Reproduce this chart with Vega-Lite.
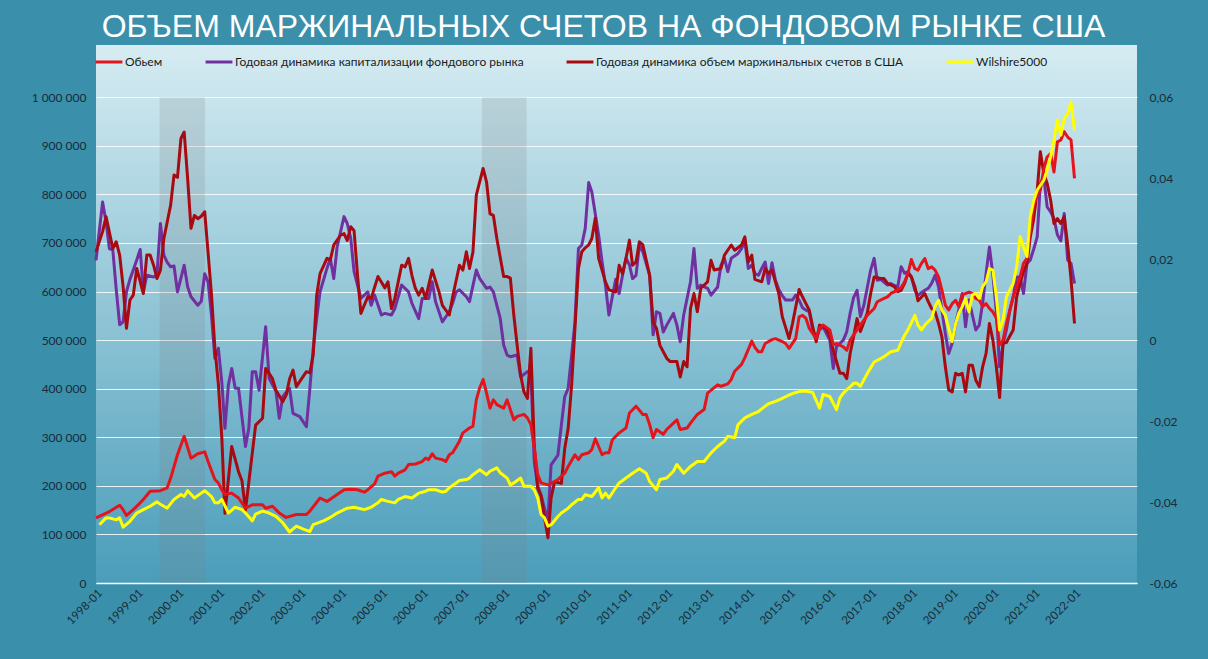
{
"$schema":"https://vega.github.io/schema/vega-lite/v6.json",
"width":1041,"height":538,
"autosize":{"type":"none"},
"padding":{"left":96,"top":45,"right":71,"bottom":76},
"background":"#3a8fab",
"title":{"text":"ОБЪЕМ МАРЖИНАЛЬНЫХ СЧЕТОВ НА ФОНДОВОМ РЫНКЕ США","color":"#ffffff","font":"Liberation Sans","fontSize":32,"fontWeight":"normal","anchor":"middle","baseline":"bottom","offset":0,"dy":31,"dx":-13},
"config":{
 "locale":{"number":{"decimal":",","thousands":" ","grouping":[3],"currency":["",""],"minus":"-"}},
 "view":{"stroke":null,"fill":{"gradient":"linear","x1":0,"y1":0,"x2":0,"y2":1,"stops":[{"offset":0,"color":"#d6ecf2"},{"offset":1,"color":"#4a9dba"}]}},
 "axis":{"labelFont":"Lato","labelFontSize":12,"labelColor":"#1c2b36","ticks":false,"title":null,"domain":false,"grid":false}
},
"datasets":{
"bands":[{"start":"1999-07-25","end":"2000-09-03"},{"start":"2007-06-20","end":"2008-07-25"}],
"vol":[
{"d":"1998-01","v":134000},{"d":"1998-05","v":147000},{"d":"1998-08","v":160000},{"d":"1998-09","v":151000},{"d":"1998-10","v":139000},{"d":"1998-12","v":151000},{"d":"1999-02","v":165000},{"d":"1999-03","v":172000},{"d":"1999-05","v":189000},{"d":"1999-08","v":190000},{"d":"1999-10","v":196000},{"d":"1999-11","v":216000},{"d":"2000-01","v":264000},{"d":"2000-03","v":302000},{"d":"2000-05","v":257000},{"d":"2000-07","v":266000},{"d":"2000-09","v":270000},{"d":"2000-10","v":250000},{"d":"2000-12","v":213000},{"d":"2001-01","v":206000},{"d":"2001-02","v":192000},{"d":"2001-03","v":182000},{"d":"2001-05","v":185000},{"d":"2001-07","v":175000},{"d":"2001-09","v":154000},{"d":"2001-11","v":161000},{"d":"2002-02","v":161000},{"d":"2002-03","v":154000},{"d":"2002-05","v":158000},{"d":"2002-07","v":144000},{"d":"2002-09","v":135000},{"d":"2002-12","v":141000},{"d":"2003-03","v":141000},{"d":"2003-04","v":148000},{"d":"2003-07","v":175000},{"d":"2003-09","v":168000},{"d":"2003-12","v":182000},{"d":"2004-02","v":192000},{"d":"2004-04","v":193000},{"d":"2004-06","v":192000},{"d":"2004-08","v":187000},{"d":"2004-09","v":192000},{"d":"2004-11","v":204000},{"d":"2004-12","v":220000},{"d":"2005-02","v":226000},{"d":"2005-04","v":229000},{"d":"2005-05","v":220000},{"d":"2005-06","v":226000},{"d":"2005-08","v":233000},{"d":"2005-09","v":244000},{"d":"2005-11","v":245000},{"d":"2006-01","v":250000},{"d":"2006-02","v":257000},{"d":"2006-03","v":254000},{"d":"2006-04","v":266000},{"d":"2006-05","v":257000},{"d":"2006-07","v":254000},{"d":"2006-08","v":250000},{"d":"2006-09","v":264000},{"d":"2006-10","v":268000},{"d":"2006-12","v":292000},{"d":"2007-01","v":309000},{"d":"2007-03","v":319000},{"d":"2007-04","v":323000},{"d":"2007-05","v":377000},{"d":"2007-06","v":402000},{"d":"2007-07","v":419000},{"d":"2007-08","v":391000},{"d":"2007-09","v":360000},{"d":"2007-10","v":377000},{"d":"2007-11","v":367000},{"d":"2008-01","v":360000},{"d":"2008-02","v":377000},{"d":"2008-03","v":357000},{"d":"2008-04","v":336000},{"d":"2008-05","v":343000},{"d":"2008-07","v":347000},{"d":"2008-08","v":340000},{"d":"2008-09","v":326000},{"d":"2008-10","v":278000},{"d":"2008-11","v":223000},{"d":"2008-12","v":206000},{"d":"2009-02","v":202000},{"d":"2009-03","v":205000},{"d":"2009-04","v":209000},{"d":"2009-05","v":213000},{"d":"2009-07","v":226000},{"d":"2009-08","v":240000},{"d":"2009-10","v":264000},{"d":"2009-11","v":254000},{"d":"2009-12","v":264000},{"d":"2010-02","v":268000},{"d":"2010-03","v":275000},{"d":"2010-04","v":297000},{"d":"2010-06","v":264000},{"d":"2010-07","v":268000},{"d":"2010-08","v":268000},{"d":"2010-09","v":295000},{"d":"2010-11","v":309000},{"d":"2011-01","v":319000},{"d":"2011-02","v":350000},{"d":"2011-04","v":364000},{"d":"2011-06","v":347000},{"d":"2011-07","v":347000},{"d":"2011-08","v":326000},{"d":"2011-09","v":299000},{"d":"2011-10","v":316000},{"d":"2011-12","v":306000},{"d":"2012-01","v":316000},{"d":"2012-03","v":329000},{"d":"2012-04","v":336000},{"d":"2012-05","v":316000},{"d":"2012-07","v":319000},{"d":"2012-08","v":329000},{"d":"2012-10","v":347000},{"d":"2012-12","v":357000},{"d":"2013-01","v":391000},{"d":"2013-03","v":402000},{"d":"2013-04","v":408000},{"d":"2013-05","v":405000},{"d":"2013-07","v":410000},{"d":"2013-08","v":419000},{"d":"2013-09","v":436000},{"d":"2013-11","v":450000},{"d":"2013-12","v":464000},{"d":"2014-02","v":498000},{"d":"2014-03","v":485000},{"d":"2014-04","v":476000},{"d":"2014-05","v":476000},{"d":"2014-06","v":493000},{"d":"2014-08","v":501000},{"d":"2014-09","v":503000},{"d":"2014-11","v":497000},{"d":"2014-12","v":493000},{"d":"2015-01","v":483000},{"d":"2015-03","v":503000},{"d":"2015-04","v":548000},{"d":"2015-05","v":551000},{"d":"2015-06","v":545000},{"d":"2015-07","v":524000},{"d":"2015-09","v":503000},{"d":"2015-10","v":524000},{"d":"2015-11","v":531000},{"d":"2016-01","v":521000},{"d":"2016-02","v":490000},{"d":"2016-03","v":493000},{"d":"2016-05","v":486000},{"d":"2016-06","v":479000},{"d":"2016-07","v":500000},{"d":"2016-09","v":521000},{"d":"2016-10","v":531000},{"d":"2016-11","v":541000},{"d":"2016-12","v":551000},{"d":"2017-02","v":565000},{"d":"2017-03","v":579000},{"d":"2017-05","v":586000},{"d":"2017-06","v":589000},{"d":"2017-07","v":596000},{"d":"2017-09","v":603000},{"d":"2017-10","v":608000},{"d":"2017-11","v":620000},{"d":"2017-12","v":637000},{"d":"2018-01","v":666000},{"d":"2018-02","v":647000},{"d":"2018-03","v":644000},{"d":"2018-04","v":658000},{"d":"2018-05","v":668000},{"d":"2018-06","v":647000},{"d":"2018-07","v":651000},{"d":"2018-08","v":644000},{"d":"2018-09","v":630000},{"d":"2018-10","v":603000},{"d":"2018-11","v":572000},{"d":"2018-12","v":562000},{"d":"2019-01","v":575000},{"d":"2019-02","v":582000},{"d":"2019-03","v":569000},{"d":"2019-04","v":593000},{"d":"2019-06","v":599000},{"d":"2019-07","v":596000},{"d":"2019-08","v":586000},{"d":"2019-09","v":582000},{"d":"2019-10","v":569000},{"d":"2019-11","v":575000},{"d":"2019-12","v":565000},{"d":"2020-01","v":558000},{"d":"2020-02","v":545000},{"d":"2020-03","v":490000},{"d":"2020-04","v":500000},{"d":"2020-05","v":534000},{"d":"2020-07","v":589000},{"d":"2020-09","v":630000},{"d":"2020-10","v":658000},{"d":"2020-11","v":668000},{"d":"2020-12","v":726000},{"d":"2021-01","v":778000},{"d":"2021-02","v":799000},{"d":"2021-03","v":809000},{"d":"2021-04","v":853000},{"d":"2021-05","v":877000},{"d":"2021-06","v":884000},{"d":"2021-07","v":846000},{"d":"2021-08","v":908000},{"d":"2021-09","v":912000},{"d":"2021-10","v":929000},{"d":"2021-11","v":918000},{"d":"2021-12","v":912000},{"d":"2022-01","v":833000}],
"wil":[
{"d":"1998-02","v":120000},{"d":"1998-04","v":134000},{"d":"1998-05","v":134000},{"d":"1998-07","v":130000},{"d":"1998-08","v":134000},{"d":"1998-09","v":115000},{"d":"1998-11","v":127000},{"d":"1999-01","v":144000},{"d":"1999-03","v":151000},{"d":"1999-05","v":158000},{"d":"1999-07","v":167000},{"d":"1999-08","v":162000},{"d":"1999-10","v":154000},{"d":"1999-12","v":172000},{"d":"2000-02","v":182000},{"d":"2000-03","v":178000},{"d":"2000-04","v":190000},{"d":"2000-06","v":175000},{"d":"2000-08","v":185000},{"d":"2000-09","v":190000},{"d":"2000-11","v":178000},{"d":"2000-12","v":165000},{"d":"2001-01","v":165000},{"d":"2001-02","v":172000},{"d":"2001-04","v":144000},{"d":"2001-06","v":156000},{"d":"2001-08","v":151000},{"d":"2001-09","v":144000},{"d":"2001-11","v":128000},{"d":"2001-12","v":142000},{"d":"2002-02","v":148000},{"d":"2002-04","v":144000},{"d":"2002-06","v":137000},{"d":"2002-08","v":124000},{"d":"2002-10","v":105000},{"d":"2002-12","v":117000},{"d":"2003-02","v":111000},{"d":"2003-04","v":106000},{"d":"2003-05","v":120000},{"d":"2003-08","v":128000},{"d":"2003-10","v":135000},{"d":"2003-12","v":144000},{"d":"2004-03","v":154000},{"d":"2004-05","v":156000},{"d":"2004-08","v":151000},{"d":"2004-10","v":156000},{"d":"2004-12","v":165000},{"d":"2005-01","v":172000},{"d":"2005-03","v":168000},{"d":"2005-05","v":165000},{"d":"2005-06","v":172000},{"d":"2005-08","v":178000},{"d":"2005-10","v":175000},{"d":"2005-12","v":185000},{"d":"2006-02","v":189000},{"d":"2006-03","v":192000},{"d":"2006-05","v":192000},{"d":"2006-07","v":187000},{"d":"2006-08","v":189000},{"d":"2006-09","v":196000},{"d":"2006-11","v":206000},{"d":"2006-12","v":211000},{"d":"2007-02","v":213000},{"d":"2007-03","v":216000},{"d":"2007-04","v":223000},{"d":"2007-06","v":233000},{"d":"2007-08","v":223000},{"d":"2007-09","v":230000},{"d":"2007-11","v":237000},{"d":"2007-12","v":227000},{"d":"2008-02","v":216000},{"d":"2008-03","v":202000},{"d":"2008-04","v":206000},{"d":"2008-06","v":216000},{"d":"2008-07","v":199000},{"d":"2008-09","v":199000},{"d":"2008-10","v":192000},{"d":"2008-11","v":175000},{"d":"2008-12","v":141000},{"d":"2009-01","v":134000},{"d":"2009-02","v":117000},{"d":"2009-03","v":120000},{"d":"2009-05","v":137000},{"d":"2009-06","v":144000},{"d":"2009-08","v":154000},{"d":"2009-09","v":161000},{"d":"2009-11","v":172000},{"d":"2009-12","v":172000},{"d":"2010-01","v":182000},{"d":"2010-03","v":178000},{"d":"2010-05","v":196000},{"d":"2010-06","v":175000},{"d":"2010-07","v":185000},{"d":"2010-08","v":175000},{"d":"2010-10","v":196000},{"d":"2010-11","v":206000},{"d":"2011-01","v":216000},{"d":"2011-03","v":226000},{"d":"2011-05","v":235000},{"d":"2011-07","v":226000},{"d":"2011-08","v":209000},{"d":"2011-10","v":192000},{"d":"2011-11","v":213000},{"d":"2012-01","v":216000},{"d":"2012-03","v":230000},{"d":"2012-04","v":244000},{"d":"2012-06","v":226000},{"d":"2012-08","v":240000},{"d":"2012-10","v":250000},{"d":"2012-12","v":250000},{"d":"2013-02","v":268000},{"d":"2013-04","v":281000},{"d":"2013-06","v":292000},{"d":"2013-07","v":302000},{"d":"2013-09","v":299000},{"d":"2013-10","v":326000},{"d":"2013-12","v":340000},{"d":"2014-02","v":347000},{"d":"2014-04","v":353000},{"d":"2014-06","v":364000},{"d":"2014-07","v":369000},{"d":"2014-09","v":374000},{"d":"2014-11","v":380000},{"d":"2015-01","v":387000},{"d":"2015-02","v":390000},{"d":"2015-04","v":394000},{"d":"2015-06","v":395000},{"d":"2015-08","v":392000},{"d":"2015-10","v":360000},{"d":"2015-11","v":388000},{"d":"2016-01","v":384000},{"d":"2016-03","v":357000},{"d":"2016-04","v":381000},{"d":"2016-05","v":391000},{"d":"2016-07","v":404000},{"d":"2016-08","v":411000},{"d":"2016-09","v":411000},{"d":"2016-10","v":405000},{"d":"2016-12","v":431000},{"d":"2017-02","v":455000},{"d":"2017-04","v":462000},{"d":"2017-05","v":466000},{"d":"2017-07","v":476000},{"d":"2017-09","v":479000},{"d":"2017-10","v":495000},{"d":"2017-11","v":510000},{"d":"2017-12","v":521000},{"d":"2018-02","v":551000},{"d":"2018-03","v":531000},{"d":"2018-04","v":521000},{"d":"2018-05","v":531000},{"d":"2018-07","v":545000},{"d":"2018-08","v":569000},{"d":"2018-09","v":582000},{"d":"2018-10","v":562000},{"d":"2018-11","v":551000},{"d":"2018-12","v":524000},{"d":"2019-01","v":497000},{"d":"2019-02","v":534000},{"d":"2019-03","v":555000},{"d":"2019-04","v":569000},{"d":"2019-05","v":586000},{"d":"2019-06","v":558000},{"d":"2019-07","v":593000},{"d":"2019-08","v":596000},{"d":"2019-09","v":586000},{"d":"2019-10","v":610000},{"d":"2019-11","v":620000},{"d":"2019-12","v":647000},{"d":"2020-01","v":644000},{"d":"2020-02","v":589000},{"d":"2020-03","v":521000},{"d":"2020-04","v":541000},{"d":"2020-05","v":589000},{"d":"2020-07","v":617000},{"d":"2020-08","v":651000},{"d":"2020-09","v":713000},{"d":"2020-10","v":692000},{"d":"2020-11","v":672000},{"d":"2020-12","v":754000},{"d":"2021-01","v":788000},{"d":"2021-02","v":809000},{"d":"2021-04","v":829000},{"d":"2021-05","v":850000},{"d":"2021-06","v":877000},{"d":"2021-07","v":912000},{"d":"2021-08","v":953000},{"d":"2021-09","v":922000},{"d":"2021-10","v":956000},{"d":"2021-11","v":966000},{"d":"2021-12","v":990000},{"d":"2022-01","v":932000}],
"cap":[
{"d":"1998-01","v":0.0197},{"d":"1998-03","v":0.0341},{"d":"1998-04","v":0.0292},{"d":"1998-05","v":0.0226},{"d":"1998-06","v":0.0222},{"d":"1998-07","v":0.0126},{"d":"1998-08","v":0.0038},{"d":"1998-09","v":0.0045},{"d":"1998-10","v":0.012},{"d":"1998-11","v":0.015},{"d":"1998-12","v":0.0173},{"d":"1999-01","v":0.0198},{"d":"1999-02","v":0.0224},{"d":"1999-03","v":0.0119},{"d":"1999-04","v":0.016},{"d":"1999-06","v":0.0156},{"d":"1999-07","v":0.016},{"d":"1999-08","v":0.0288},{"d":"1999-09","v":0.021},{"d":"1999-10","v":0.0192},{"d":"1999-11","v":0.0181},{"d":"1999-12","v":0.0183},{"d":"2000-01","v":0.0119},{"d":"2000-03","v":0.0185},{"d":"2000-04","v":0.0132},{"d":"2000-05","v":0.0107},{"d":"2000-07","v":0.0086},{"d":"2000-08","v":0.0096},{"d":"2000-09","v":0.0164},{"d":"2000-10","v":0.0144},{"d":"2000-11","v":0.006},{"d":"2000-12","v":-0.0045},{"d":"2001-01","v":-0.002},{"d":"2001-02","v":-0.0103},{"d":"2001-03","v":-0.0218},{"d":"2001-04","v":-0.0111},{"d":"2001-05","v":-0.007},{"d":"2001-06","v":-0.0119},{"d":"2001-07","v":-0.0119},{"d":"2001-09","v":-0.0263},{"d":"2001-10","v":-0.0218},{"d":"2001-11","v":-0.0078},{"d":"2001-12","v":-0.0078},{"d":"2002-01","v":-0.0124},{"d":"2002-03","v":0.0033},{"d":"2002-04","v":-0.0095},{"d":"2002-06","v":-0.0126},{"d":"2002-07","v":-0.0193},{"d":"2002-08","v":-0.014},{"d":"2002-10","v":-0.0119},{"d":"2002-11","v":-0.0181},{"d":"2003-01","v":-0.0189},{"d":"2003-03","v":-0.0214},{"d":"2003-04","v":-0.0119},{"d":"2003-05","v":-0.002},{"d":"2003-06","v":0.0053},{"d":"2003-07","v":0.0119},{"d":"2003-09","v":0.0177},{"d":"2003-10","v":0.0202},{"d":"2003-11","v":0.0152},{"d":"2003-12","v":0.023},{"d":"2004-02","v":0.0305},{"d":"2004-03","v":0.0288},{"d":"2004-04","v":0.0252},{"d":"2004-05","v":0.0169},{"d":"2004-07","v":0.0103},{"d":"2004-08","v":0.0111},{"d":"2004-09","v":0.0119},{"d":"2004-10","v":0.0086},{"d":"2004-11","v":0.0111},{"d":"2005-01","v":0.0062},{"d":"2005-02","v":0.0066},{"d":"2005-04","v":0.0062},{"d":"2005-05","v":0.0078},{"d":"2005-07","v":0.0136},{"d":"2005-09","v":0.0119},{"d":"2005-10","v":0.0091},{"d":"2005-12","v":0.0053},{"d":"2006-01","v":0.0103},{"d":"2006-03","v":0.0103},{"d":"2006-04","v":0.0144},{"d":"2006-05","v":0.0095},{"d":"2006-07","v":0.0045},{"d":"2006-09","v":0.007},{"d":"2006-10","v":0.0091},{"d":"2006-11","v":0.0119},{"d":"2006-12","v":0.0124},{"d":"2007-02","v":0.0107},{"d":"2007-03","v":0.0095},{"d":"2007-05","v":0.0173},{"d":"2007-06","v":0.0152},{"d":"2007-08","v":0.0128},{"d":"2007-09","v":0.0131},{"d":"2007-10","v":0.0119},{"d":"2007-11","v":0.0086},{"d":"2007-12","v":0.0054},{"d":"2008-01","v":-0.0012},{"d":"2008-02","v":-0.0037},{"d":"2008-03","v":-0.0041},{"d":"2008-05","v":-0.0037},{"d":"2008-06","v":-0.0091},{"d":"2008-08","v":-0.0078},{"d":"2008-09","v":-0.0082},{"d":"2008-10","v":-0.03},{"d":"2008-11","v":-0.036},{"d":"2008-12","v":-0.0383},{"d":"2009-01","v":-0.0416},{"d":"2009-02","v":-0.0444},{"d":"2009-03","v":-0.0308},{"d":"2009-05","v":-0.0284},{"d":"2009-06","v":-0.021},{"d":"2009-07","v":-0.014},{"d":"2009-08","v":-0.0119},{"d":"2009-09","v":-0.0037},{"d":"2009-10","v":0.0045},{"d":"2009-11","v":0.0226},{"d":"2009-12","v":0.0235},{"d":"2010-01","v":0.0276},{"d":"2010-02","v":0.0389},{"d":"2010-03","v":0.0366},{"d":"2010-05","v":0.0259},{"d":"2010-06","v":0.0193},{"d":"2010-07","v":0.0136},{"d":"2010-08","v":0.0062},{"d":"2010-09","v":0.0108},{"d":"2010-10","v":0.015},{"d":"2010-11","v":0.0115},{"d":"2010-12","v":0.016},{"d":"2011-01","v":0.0202},{"d":"2011-02","v":0.0186},{"d":"2011-03","v":0.0152},{"d":"2011-04","v":0.016},{"d":"2011-05","v":0.0235},{"d":"2011-06","v":0.0218},{"d":"2011-08","v":0.016},{"d":"2011-09","v":0.0013},{"d":"2011-10","v":0.007},{"d":"2011-11","v":0.0066},{"d":"2011-12","v":0.002},{"d":"2012-01","v":0.0037},{"d":"2012-03","v":0.0066},{"d":"2012-04","v":0.0037},{"d":"2012-05","v":-0.0004},{"d":"2012-06","v":0.0062},{"d":"2012-08","v":0.0144},{"d":"2012-09","v":0.0226},{"d":"2012-10","v":0.0128},{"d":"2012-11","v":0.0136},{"d":"2013-01","v":0.0128},{"d":"2013-02","v":0.0111},{"d":"2013-04","v":0.0131},{"d":"2013-05","v":0.0185},{"d":"2013-06","v":0.0202},{"d":"2013-07","v":0.0169},{"d":"2013-08","v":0.0202},{"d":"2013-10","v":0.0214},{"d":"2013-11","v":0.0226},{"d":"2013-12","v":0.0243},{"d":"2014-01","v":0.0177},{"d":"2014-02","v":0.0185},{"d":"2014-03","v":0.0165},{"d":"2014-04","v":0.016},{"d":"2014-05","v":0.0177},{"d":"2014-06","v":0.0193},{"d":"2014-07","v":0.014},{"d":"2014-08","v":0.0191},{"d":"2014-09","v":0.0148},{"d":"2014-10","v":0.0125},{"d":"2014-11","v":0.011},{"d":"2014-12","v":0.0099},{"d":"2015-02","v":0.0099},{"d":"2015-03","v":0.0111},{"d":"2015-04","v":0.0099},{"d":"2015-05","v":0.008},{"d":"2015-06","v":0.0074},{"d":"2015-07","v":0.007},{"d":"2015-08","v":0.0025},{"d":"2015-09","v":0.0004},{"d":"2015-10","v":0.0025},{"d":"2015-11","v":0.0033},{"d":"2016-01","v":0.0},{"d":"2016-02","v":-0.007},{"d":"2016-03","v":-0.0016},{"d":"2016-05","v":0.0},{"d":"2016-06","v":0.0021},{"d":"2016-07","v":0.0066},{"d":"2016-08","v":0.0105},{"d":"2016-09","v":0.0123},{"d":"2016-10","v":0.0058},{"d":"2016-11","v":0.0086},{"d":"2017-01","v":0.0173},{"d":"2017-02","v":0.0202},{"d":"2017-03","v":0.0148},{"d":"2017-04","v":0.015},{"d":"2017-06","v":0.0136},{"d":"2017-07","v":0.014},{"d":"2017-08","v":0.0135},{"d":"2017-09","v":0.0132},{"d":"2017-10","v":0.0181},{"d":"2017-11","v":0.0165},{"d":"2017-12","v":0.0169},{"d":"2018-01","v":0.0156},{"d":"2018-02","v":0.0123},{"d":"2018-03","v":0.0111},{"d":"2018-05","v":0.0123},{"d":"2018-06","v":0.0128},{"d":"2018-07","v":0.014},{"d":"2018-08","v":0.016},{"d":"2018-09","v":0.0132},{"d":"2018-10","v":0.0074},{"d":"2018-11","v":0.0016},{"d":"2018-12","v":-0.0033},{"d":"2019-01","v":-0.0008},{"d":"2019-02","v":0.0041},{"d":"2019-03","v":0.0074},{"d":"2019-04","v":0.0115},{"d":"2019-05","v":0.0033},{"d":"2019-06","v":0.0099},{"d":"2019-07","v":0.0062},{"d":"2019-08","v":0.0025},{"d":"2019-09","v":0.0037},{"d":"2019-10","v":0.0091},{"d":"2019-11","v":0.0165},{"d":"2019-12","v":0.023},{"d":"2020-01","v":0.016},{"d":"2020-02","v":0.007},{"d":"2020-03","v":-0.0066},{"d":"2020-04","v":-0.001},{"d":"2020-05","v":0.0025},{"d":"2020-06","v":0.0074},{"d":"2020-07","v":0.0107},{"d":"2020-08","v":0.0156},{"d":"2020-09","v":0.0156},{"d":"2020-10","v":0.0115},{"d":"2020-11","v":0.0189},{"d":"2020-12","v":0.0198},{"d":"2021-01","v":0.0225},{"d":"2021-02","v":0.0255},{"d":"2021-03","v":0.0387},{"d":"2021-04","v":0.0403},{"d":"2021-05","v":0.0329},{"d":"2021-06","v":0.0317},{"d":"2021-07","v":0.03},{"d":"2021-08","v":0.026},{"d":"2021-09","v":0.0245},{"d":"2021-10","v":0.0313},{"d":"2021-11","v":0.0198},{"d":"2021-12","v":0.0189},{"d":"2022-01","v":0.014}],
"mdyn":[
{"d":"1998-01","v":0.0218},{"d":"1998-03","v":0.0268},{"d":"1998-04","v":0.0305},{"d":"1998-06","v":0.0226},{"d":"1998-07","v":0.0243},{"d":"1998-08","v":0.021},{"d":"1998-09","v":0.0132},{"d":"1998-10","v":0.0029},{"d":"1998-11","v":0.0099},{"d":"1998-12","v":0.0111},{"d":"1999-01","v":0.0177},{"d":"1999-03","v":0.0115},{"d":"1999-04","v":0.021},{"d":"1999-05","v":0.021},{"d":"1999-06","v":0.0185},{"d":"1999-07","v":0.0152},{"d":"1999-08","v":0.0173},{"d":"1999-09","v":0.0251},{"d":"1999-11","v":0.0334},{"d":"1999-12","v":0.0408},{"d":"2000-01","v":0.0402},{"d":"2000-02","v":0.0498},{"d":"2000-03","v":0.0514},{"d":"2000-04","v":0.0399},{"d":"2000-05","v":0.0276},{"d":"2000-06","v":0.0308},{"d":"2000-07","v":0.03},{"d":"2000-08","v":0.0306},{"d":"2000-09","v":0.0317},{"d":"2000-11","v":0.0111},{"d":"2000-12","v":-0.002},{"d":"2001-01","v":-0.0108},{"d":"2001-02","v":-0.024},{"d":"2001-03","v":-0.0428},{"d":"2001-05","v":-0.0263},{"d":"2001-07","v":-0.0325},{"d":"2001-08","v":-0.0348},{"d":"2001-09","v":-0.042},{"d":"2001-12","v":-0.021},{"d":"2002-02","v":-0.0193},{"d":"2002-03","v":-0.007},{"d":"2002-05","v":-0.0095},{"d":"2002-06","v":-0.0124},{"d":"2002-08","v":-0.0152},{"d":"2002-09","v":-0.0136},{"d":"2002-10","v":-0.0096},{"d":"2002-11","v":-0.0074},{"d":"2002-12","v":-0.0115},{"d":"2003-01","v":-0.0102},{"d":"2003-03","v":-0.0078},{"d":"2003-04","v":-0.0081},{"d":"2003-05","v":-0.0037},{"d":"2003-06","v":0.0111},{"d":"2003-07","v":0.0164},{"d":"2003-09","v":0.0202},{"d":"2003-10","v":0.0198},{"d":"2003-11","v":0.0235},{"d":"2004-01","v":0.0259},{"d":"2004-02","v":0.0263},{"d":"2004-03","v":0.0246},{"d":"2004-04","v":0.028},{"d":"2004-05","v":0.027},{"d":"2004-06","v":0.016},{"d":"2004-07","v":0.0066},{"d":"2004-09","v":0.0107},{"d":"2004-10","v":0.0103},{"d":"2004-12","v":0.0157},{"d":"2005-02","v":0.0129},{"d":"2005-03","v":0.0144},{"d":"2005-04","v":0.0078},{"d":"2005-05","v":0.0103},{"d":"2005-07","v":0.0185},{"d":"2005-08","v":0.0181},{"d":"2005-09","v":0.0202},{"d":"2005-10","v":0.016},{"d":"2005-11","v":0.0128},{"d":"2005-12","v":0.0111},{"d":"2006-01","v":0.0128},{"d":"2006-02","v":0.0103},{"d":"2006-04","v":0.0173},{"d":"2006-06","v":0.0119},{"d":"2006-07","v":0.0086},{"d":"2006-09","v":0.0062},{"d":"2006-10","v":0.0107},{"d":"2006-12","v":0.0185},{"d":"2007-01","v":0.0173},{"d":"2007-02","v":0.0218},{"d":"2007-03","v":0.0177},{"d":"2007-04","v":0.0218},{"d":"2007-05","v":0.0358},{"d":"2007-07","v":0.0424},{"d":"2007-08","v":0.039},{"d":"2007-09","v":0.0312},{"d":"2007-10","v":0.0308},{"d":"2007-11","v":0.0251},{"d":"2008-01","v":0.0157},{"d":"2008-02","v":0.0157},{"d":"2008-03","v":0.0153},{"d":"2008-04","v":0.0062},{"d":"2008-05","v":-0.0013},{"d":"2008-06","v":-0.0086},{"d":"2008-07","v":-0.0128},{"d":"2008-08","v":-0.0144},{"d":"2008-09","v":-0.002},{"d":"2008-10","v":-0.0259},{"d":"2008-11","v":-0.0366},{"d":"2008-12","v":-0.0384},{"d":"2009-01","v":-0.0438},{"d":"2009-02","v":-0.0488},{"d":"2009-03","v":-0.039},{"d":"2009-04","v":-0.035},{"d":"2009-06","v":-0.0354},{"d":"2009-07","v":-0.0268},{"d":"2009-08","v":-0.0218},{"d":"2009-09","v":-0.0111},{"d":"2009-10","v":0.003},{"d":"2009-11","v":0.0177},{"d":"2009-12","v":0.0218},{"d":"2010-01","v":0.0228},{"d":"2010-02","v":0.0235},{"d":"2010-03","v":0.0251},{"d":"2010-04","v":0.0301},{"d":"2010-05","v":0.0202},{"d":"2010-07","v":0.0144},{"d":"2010-08","v":0.0124},{"d":"2010-10","v":0.0119},{"d":"2010-11","v":0.0185},{"d":"2010-12","v":0.0164},{"d":"2011-01","v":0.0202},{"d":"2011-02","v":0.0247},{"d":"2011-03","v":0.0185},{"d":"2011-04","v":0.0193},{"d":"2011-05","v":0.0243},{"d":"2011-06","v":0.0235},{"d":"2011-08","v":0.016},{"d":"2011-09","v":0.0045},{"d":"2011-10","v":0.0029},{"d":"2011-11","v":-0.0013},{"d":"2012-01","v":-0.0045},{"d":"2012-02","v":-0.0053},{"d":"2012-04","v":-0.0053},{"d":"2012-05","v":-0.0091},{"d":"2012-06","v":-0.0053},{"d":"2012-07","v":-0.0066},{"d":"2012-08","v":0.0078},{"d":"2012-09","v":0.0115},{"d":"2012-10","v":0.007},{"d":"2012-11","v":0.0128},{"d":"2013-01","v":0.0144},{"d":"2013-02","v":0.0197},{"d":"2013-03","v":0.0173},{"d":"2013-05","v":0.0177},{"d":"2013-06","v":0.021},{"d":"2013-08","v":0.0235},{"d":"2013-09","v":0.0222},{"d":"2013-11","v":0.0235},{"d":"2013-12","v":0.0255},{"d":"2014-01","v":0.0193},{"d":"2014-02","v":0.021},{"d":"2014-03","v":0.015},{"d":"2014-05","v":0.0144},{"d":"2014-06","v":0.0177},{"d":"2014-07","v":0.0165},{"d":"2014-08","v":0.0173},{"d":"2014-10","v":0.0115},{"d":"2014-11","v":0.0058},{"d":"2015-01","v":0.0004},{"d":"2015-02","v":0.0041},{"d":"2015-04","v":0.0125},{"d":"2015-05","v":0.0107},{"d":"2015-07","v":0.0074},{"d":"2015-08","v":0.0033},{"d":"2015-09","v":-0.0004},{"d":"2015-10","v":0.0037},{"d":"2015-12","v":0.0029},{"d":"2016-01","v":0.0008},{"d":"2016-02","v":-0.0025},{"d":"2016-04","v":-0.0082},{"d":"2016-05","v":-0.0082},{"d":"2016-06","v":-0.0095},{"d":"2016-07","v":-0.0033},{"d":"2016-08","v":0.0008},{"d":"2016-09","v":0.0053},{"d":"2016-10","v":0.0021},{"d":"2016-12","v":0.0066},{"d":"2017-01","v":0.0115},{"d":"2017-02","v":0.0156},{"d":"2017-04","v":0.0152},{"d":"2017-05","v":0.0152},{"d":"2017-06","v":0.014},{"d":"2017-08","v":0.0132},{"d":"2017-09","v":0.012},{"d":"2017-10","v":0.0123},{"d":"2017-11","v":0.014},{"d":"2017-12","v":0.0165},{"d":"2018-01","v":0.0156},{"d":"2018-02","v":0.0132},{"d":"2018-03","v":0.0097},{"d":"2018-05","v":0.0115},{"d":"2018-06","v":0.0095},{"d":"2018-07","v":0.0078},{"d":"2018-08","v":0.007},{"d":"2018-09","v":0.0041},{"d":"2018-10","v":0.0008},{"d":"2018-11","v":-0.0066},{"d":"2018-12","v":-0.0123},{"d":"2019-01","v":-0.0128},{"d":"2019-02","v":-0.0082},{"d":"2019-03","v":-0.0086},{"d":"2019-04","v":-0.0082},{"d":"2019-05","v":-0.0128},{"d":"2019-06","v":-0.0062},{"d":"2019-07","v":-0.0062},{"d":"2019-08","v":-0.0099},{"d":"2019-09","v":-0.0115},{"d":"2019-10","v":-0.0066},{"d":"2019-11","v":-0.0033},{"d":"2019-12","v":0.0041},{"d":"2020-01","v":0.0},{"d":"2020-02","v":-0.0066},{"d":"2020-03","v":-0.0142},{"d":"2020-04","v":-0.0008},{"d":"2020-05","v":-0.0006},{"d":"2020-06","v":0.001},{"d":"2020-07","v":0.0025},{"d":"2020-08","v":0.0107},{"d":"2020-09","v":0.014},{"d":"2020-10","v":0.0169},{"d":"2020-11","v":0.0189},{"d":"2020-12","v":0.0255},{"d":"2021-01","v":0.03},{"d":"2021-02","v":0.037},{"d":"2021-03","v":0.0465},{"d":"2021-04","v":0.0412},{"d":"2021-05","v":0.0387},{"d":"2021-06","v":0.0346},{"d":"2021-07","v":0.0288},{"d":"2021-08","v":0.03},{"d":"2021-09","v":0.0288},{"d":"2021-10","v":0.0305},{"d":"2021-11","v":0.0235},{"d":"2021-12","v":0.015},{"d":"2022-01","v":0.0041}]
},
"layer":[
{"data":{"name":"bands"},
 "mark":{"type":"rect","fill":"#7b8488","opacity":0.2},
 "encoding":{
  "x":{"field":"start","type":"temporal","scale":{"type":"utc","domain":[{"year":1998,"month":1,"date":1,"utc":true},{"year":2023,"month":7,"date":15,"utc":true}]},
   "axis":{"format":"%Y-%m","labelAngle":-45,"labelPadding":4,"labelFontSize":11.5,"domain":true,"domainColor":"#ffffff","domainWidth":1.5,
    "values":[{"year":1998,"month":1,"date":1,"utc":true},{"year":1999,"month":1,"date":1,"utc":true},{"year":2000,"month":1,"date":1,"utc":true},{"year":2001,"month":1,"date":1,"utc":true},{"year":2002,"month":1,"date":1,"utc":true},{"year":2003,"month":1,"date":1,"utc":true},{"year":2004,"month":1,"date":1,"utc":true},{"year":2005,"month":1,"date":1,"utc":true},{"year":2006,"month":1,"date":1,"utc":true},{"year":2007,"month":1,"date":1,"utc":true},{"year":2008,"month":1,"date":1,"utc":true},{"year":2009,"month":1,"date":1,"utc":true},{"year":2010,"month":1,"date":1,"utc":true},{"year":2011,"month":1,"date":1,"utc":true},{"year":2012,"month":1,"date":1,"utc":true},{"year":2013,"month":1,"date":1,"utc":true},{"year":2014,"month":1,"date":1,"utc":true},{"year":2015,"month":1,"date":1,"utc":true},{"year":2016,"month":1,"date":1,"utc":true},{"year":2017,"month":1,"date":1,"utc":true},{"year":2018,"month":1,"date":1,"utc":true},{"year":2019,"month":1,"date":1,"utc":true},{"year":2020,"month":1,"date":1,"utc":true},{"year":2021,"month":1,"date":1,"utc":true},{"year":2022,"month":1,"date":1,"utc":true}]}},
  "x2":{"field":"end"},
  "y":{"datum":0,"type":"quantitative","scale":{"domain":[0,1107452],"nice":false,"zero":false},"axis":null},
  "y2":{"datum":1000000}
 }},
{"data":{"name":"cap"},
 "mark":{"type":"line","strokeWidth":3,"strokeJoin":"round"},
 "encoding":{
  "x":{"field":"d","type":"temporal"},
  "y":{"field":"v","type":"quantitative","scale":{"domain":[-0.06,0.072894],"nice":false,"zero":false},
   "axis":{"orient":"right","values":[-0.06,-0.04,-0.02,0,0.02,0.04,0.06],"format":".2f","labelExpr":"datum.value == 0 ? '0' : datum.label","labelPadding":12}},
  "color":{"datum":"Годовая динамика капитализации фондового рынка","type":"nominal",
   "scale":{"domain":["Обьем","Годовая динамика капитализации фондового рынка","Годовая динамика объем маржинальных счетов в США","Wilshire5000"],"range":["#e5141c","#7030a0","#a80a12","#ffff00"]},
   "legend":{"orient":"none","legendX":-2,"legendY":2,"direction":"horizontal","columns":4,"title":null,"symbolType":"stroke","symbolStrokeWidth":3,"symbolSize":720,"labelFont":"Lato","labelFontSize":12,"labelColor":"#1a1a1a","labelLimit":0,"columnPadding":36,"labelOffset":1}}
 }},
{"data":{"name":"mdyn"},
 "mark":{"type":"line","strokeWidth":3,"strokeJoin":"round"},
 "encoding":{
  "x":{"field":"d","type":"temporal"},
  "y":{"field":"v","type":"quantitative","scale":{"domain":[-0.06,0.072894],"nice":false,"zero":false},"axis":null},
  "color":{"datum":"Годовая динамика объем маржинальных счетов в США","type":"nominal"}
 }},
{"data":{"name":"vol"},
 "mark":{"type":"line","strokeWidth":3,"strokeJoin":"round"},
 "encoding":{
  "x":{"field":"d","type":"temporal"},
  "y":{"field":"v","type":"quantitative","scale":{"domain":[0,1107452],"nice":false,"zero":false},
   "axis":{"orient":"left","values":[0,100000,200000,300000,400000,500000,600000,700000,800000,900000,1000000],"format":",d","labelPadding":10,"grid":true,"gridColor":"#ffffff","gridOpacity":0.85,"gridWidth":1}},
  "color":{"datum":"Обьем","type":"nominal"}
 }},
{"data":{"name":"wil"},
 "mark":{"type":"line","strokeWidth":3,"strokeJoin":"round"},
 "encoding":{
  "x":{"field":"d","type":"temporal"},
  "y":{"field":"v","type":"quantitative","scale":{"domain":[0,1107452],"nice":false,"zero":false},"axis":null},
  "color":{"datum":"Wilshire5000","type":"nominal"}
 }},
{"mark":{"type":"rule","color":"#ffffff","strokeWidth":3},
 "encoding":{"y":{"datum":0,"type":"quantitative","scale":{"domain":[-0.06,0.072894],"nice":false,"zero":false},"axis":null}}},
{"mark":{"type":"rule","color":"#ffffff","strokeWidth":1.2},
 "encoding":{"x":{"datum":{"year":1998,"month":1,"date":1,"utc":true},"type":"temporal"},"y":{"datum":0,"type":"quantitative","scale":{"domain":[0,1107452],"nice":false,"zero":false},"axis":null},"y2":{"datum":1000000}}},
{"mark":{"type":"rule","color":"#ffffff","strokeWidth":1.2},
 "encoding":{"x":{"datum":{"year":2023,"month":7,"date":15,"utc":true},"type":"temporal"},"y":{"datum":0,"type":"quantitative","scale":{"domain":[0,1107452],"nice":false,"zero":false},"axis":null},"y2":{"datum":1000000}}}
],
"resolve":{"scale":{"y":"independent"}}
}
